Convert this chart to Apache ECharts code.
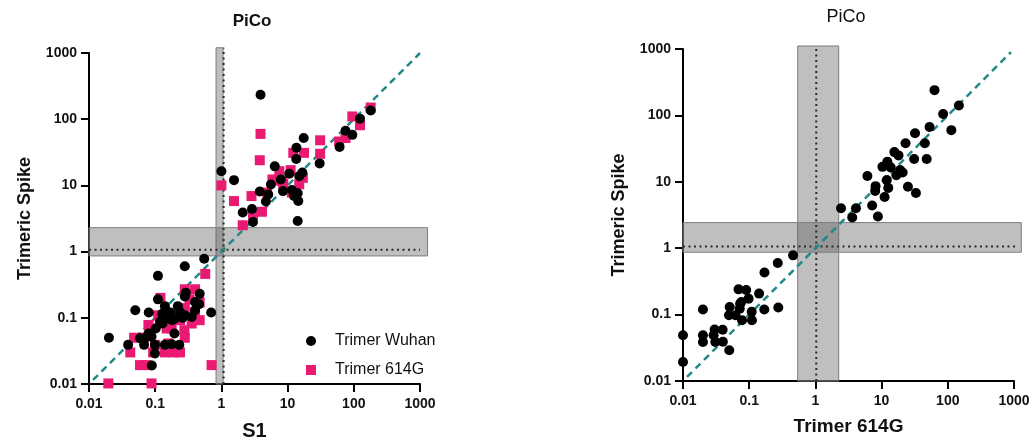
<!DOCTYPE html>
<html><head><meta charset="utf-8">
<script src="https://cdn.jsdelivr.net/npm/echarts@6/dist/echarts.min.js"></script>
<style>html,body{margin:0;padding:0;background:#fff}#c{width:1033px;height:446px}</style>
</head><body><div id="c"></div>
<script>
// ---------- data ----------
const tickLabels = ['0.01', '0.1', '1', '10', '100', '1000'];
const titles = ['PiCo', 'PiCo'];
const xNames = ['S1', 'Trimer 614G'];
const yName = 'Trimeric Spike';
const seriesNames = ['Trimer Wuhan', 'Trimer 614G'];

// Left panel: [S1, Trimeric Spike]
const wuhanLeft = [
  [3.9,234],[1.0,16.4],[1.55,12],[2.1,3.9],[2.9,4.4],[3.0,2.8],[3.8,8.1],[5.1,7.3],[4.7,5.7],[5.6,10.3],
  [6.4,19.4],[7.9,12.3],[8.5,8.2],[10.6,15],[11.6,8.5],[12.5,6.9],[13.5,25],[13.6,37],[14.2,7.6],[14.5,5.8],
  [15,13.8],[16.7,15.6],[17.5,52],[14.2,2.9],[30.5,21.5],[61,38],[75,67],[95,58],[124,102],[180,135],
  [0.55,0.78],[0.28,0.60],[0.11,0.43],[0.05,0.13],[0.08,0.12],[0.02,0.05],[0.039,0.039],[0.70,0.12],[0.11,0.19],[0.28,0.21],
  [0.29,0.24],[0.47,0.23],[0.46,0.16],[0.40,0.13],[0.14,0.15],[0.128,0.115],[0.118,0.087],[0.18,0.092],[0.237,0.122],[0.28,0.109],
  [0.356,0.103],[0.40,0.173],[0.195,0.058],[0.079,0.058],[0.088,0.052],[0.07,0.049],[0.059,0.049],[0.068,0.039],[0.099,0.039],[0.14,0.039],
  [0.177,0.04],[0.231,0.039],[0.099,0.029],[0.089,0.019],[0.102,0.069],[0.129,0.082],[0.16,0.098],[0.2,0.098],[0.22,0.15],[0.17,0.12],[0.26,0.10]
];
const g614Left = [
  [3.9,60],[3.8,24],[1.0,10],[1.55,5.8],[2.1,2.5],[2.85,6.9],[4.1,4.0],[3.0,3.6],[4.9,7.8],[5.9,12.3],
  [7.5,16.4],[8.2,11.6],[8.6,10.6],[11.1,17],[12.2,31],[17.7,31],[15,10.4],[17,13],[11.6,7.8],[7.2,12],
  [31,48],[31,30],[60,46],[75,52],[95,110],[124,81],[180,150],
  [0.57,0.46],[0.28,0.27],[0.40,0.27],[0.47,0.17],[0.28,0.14],[0.47,0.092],[0.356,0.082],[0.276,0.065],[0.28,0.05],[0.177,0.069],
  [0.149,0.069],[0.111,0.109],[0.125,0.092],[0.083,0.069],[0.066,0.05],[0.048,0.05],[0.042,0.03],[0.093,0.03],[0.14,0.03],[0.188,0.03],
  [0.237,0.03],[0.059,0.0193],[0.074,0.0193],[0.71,0.0193],[0.0196,0.0102],[0.088,0.0102],[0.1,0.039],[0.079,0.078],[0.4,0.122],[0.237,0.092],
  [0.158,0.041],[0.12,0.2],[0.33,0.19]
];
// Right panel: [Trimer 614G, Trimeric Spike]
const right614 = [
  [63,240],[147,141],[85,105],[53,67],[113,60],[32,54],[23,38],[45,38],[15.6,28],[18,25],
  [31,22],[48,22],[12.2,20],[10.3,16.8],[13.7,16.5],[19,15],[20.8,13.8],[16.7,12.6],[6.1,12.2],[12,10.6],
  [8.1,8.6],[12.6,8.1],[25,8.4],[33,6.8],[8,7.3],[11.1,5.9],[7.2,4.4],[8.8,3.0],[2.44,4.0],[4.1,4.0],[3.6,2.9],
  [0.46,0.78],[0.27,0.60],[0.17,0.43],[0.069,0.24],[0.09,0.235],[0.141,0.207],[0.098,0.174],[0.076,0.155],[0.073,0.146],[0.0507,0.13],
  [0.072,0.123],[0.109,0.11],[0.169,0.119],[0.275,0.128],[0.02,0.119],[0.0495,0.098],[0.062,0.098],[0.078,0.082],[0.11,0.082],[0.03,0.0594],
  [0.0397,0.059],[0.02,0.0488],[0.029,0.049],[0.02,0.0387],[0.0308,0.0387],[0.04,0.039],[0.05,0.029],[0.01,0.049],[0.01,0.0193]
];
const identityLeft = [[0.0115,0.0115],[1000,1000]];
const identityRight = [[0.0115,0.0115],[900,900]];
// cut-off bands: [xFrom, xTo, yFrom, yTo]
const leftBands = [[0.83, 1.06, 0.01, 1200], [0.01, 1300, 0.86, 2.3]];
const rightBands = [[0.54, 2.25, 0.01, 1110], [0.01, 1290, 0.87, 2.43]];
// dotted cut-off lines
const leftCutV = [[1.08, 0.01], [1.08, 1200]];
const leftCutH = [[0.01, 1.07], [1000, 1.07]];
const rightCutV = [[1.03, 0.01], [1.03, 1110]];
const rightCutH = [[0.01, 1.06], [1100, 1.06]];

// ---------- chart ----------
const FONT = '"Liberation Sans", Arial, sans-serif';
const fmt = v => tickLabels[Math.round(Math.log10(v)) + 2] || '';
function axis(gi, name, nameGap, isY, nameSize) {
  return {
    type: 'log', logBase: 10, min: 0.01, max: 1000, gridIndex: gi,
    name: name, nameLocation: 'middle', nameGap: nameGap,
    nameTextStyle: {fontFamily: FONT, fontSize: nameSize, fontWeight: 'bold', color: '#111'},
    axisLine: {show: true, onZero: false, lineStyle: {color: '#000', width: 2}},
    axisTick: {show: true, length: 8, lineStyle: {color: '#000', width: 2}},
    axisLabel: {formatter: fmt, fontFamily: FONT, fontSize: 14, fontWeight: 'bold', color: '#111', margin: isY ? 12 : 13},
    splitLine: {show: false}, minorTick: {show: false}
  };
}
function bandSeries(gi, rects) {
  return {
    type: 'custom', xAxisIndex: gi, yAxisIndex: gi, data: rects, silent: true, z: 1, clip: false,
    encode: {x: [0, 1], y: [2, 3]},
    renderItem: (params, api) => {
      const p0 = api.coord([api.value(0), api.value(2)]);
      const p1 = api.coord([api.value(1), api.value(3)]);
      return {type: 'rect',
        shape: {x: Math.min(p0[0], p1[0]), y: Math.min(p0[1], p1[1]), width: Math.abs(p1[0] - p0[0]), height: Math.abs(p1[1] - p0[1])},
        style: {fill: 'rgba(95,95,95,0.4)', stroke: '#7d7d7d', lineWidth: 1}};
    }
  };
}
function lineSeries(gi, d, style, z) {
  return {type: 'line', xAxisIndex: gi, yAxisIndex: gi, data: d, symbol: 'none', silent: true, z: z, clip: false, lineStyle: style};
}
const dotStyle = {type: [2, 3.5], color: '#2a2a2a', width: 2};
const dashStyle = {color: '#1f8a86', width: 2.5, type: [7, 5]};
const chart = echarts.init(document.getElementById('c'), null, {renderer: 'canvas'});
chart.setOption({
  animation: false,
  backgroundColor: '#fff',
  grid: [
    {left: 89, top: 53, width: 331, height: 333},
    {left: 683, top: 49, width: 331, height: 332}
  ],
  xAxis: [axis(0, xNames[0], 37, false, 20), axis(1, xNames[1], 36, false, 19)],
  yAxis: [axis(0, yName, 55, true, 18), axis(1, yName, 55, true, 18)],
  legend: {
    orient: 'vertical', left: 301, top: 328, itemWidth: 10, itemHeight: 10, itemGap: 13,
    data: [{name: seriesNames[0], icon: 'circle'}, {name: seriesNames[1], icon: 'rect'}],
    textStyle: {fontFamily: FONT, fontSize: 16, color: '#111', padding: [0, 0, 0, 14]},
    selectedMode: false
  },
  graphic: [
    {type: 'text', x: 252, y: 21, style: {text: titles[0], fontFamily: FONT, fontSize: 17, fontWeight: 'bold', fill: '#111', align: 'center', verticalAlign: 'middle'}},
    {type: 'text', x: 846, y: 17, style: {text: titles[1], fontFamily: FONT, fontSize: 18, fontWeight: 'normal', fill: '#111', align: 'center', verticalAlign: 'middle'}}
  ],
  series: [
    bandSeries(0, leftBands),
    bandSeries(1, rightBands),
    lineSeries(0, leftCutV, dotStyle, 2),
    lineSeries(0, leftCutH, dotStyle, 2),
    lineSeries(1, rightCutV, dotStyle, 2),
    lineSeries(1, rightCutH, dotStyle, 2),
    lineSeries(0, identityLeft, dashStyle, 3),
    lineSeries(1, identityRight, dashStyle, 3),
    {name: seriesNames[1], type: 'scatter', xAxisIndex: 0, yAxisIndex: 0, data: g614Left, symbol: 'rect', symbolSize: 10, clip: false, z: 4, itemStyle: {color: '#ea1a72', opacity: 1}},
    {name: seriesNames[0], type: 'scatter', xAxisIndex: 0, yAxisIndex: 0, data: wuhanLeft, symbol: 'circle', symbolSize: 10, clip: false, z: 5, itemStyle: {color: '#000', opacity: 1}},
    {name: 'Trimer 614G vs Spike', type: 'scatter', xAxisIndex: 1, yAxisIndex: 1, data: right614, symbol: 'circle', symbolSize: 10, clip: false, z: 5, itemStyle: {color: '#000', opacity: 1}}
  ]
});
</script></body></html>
